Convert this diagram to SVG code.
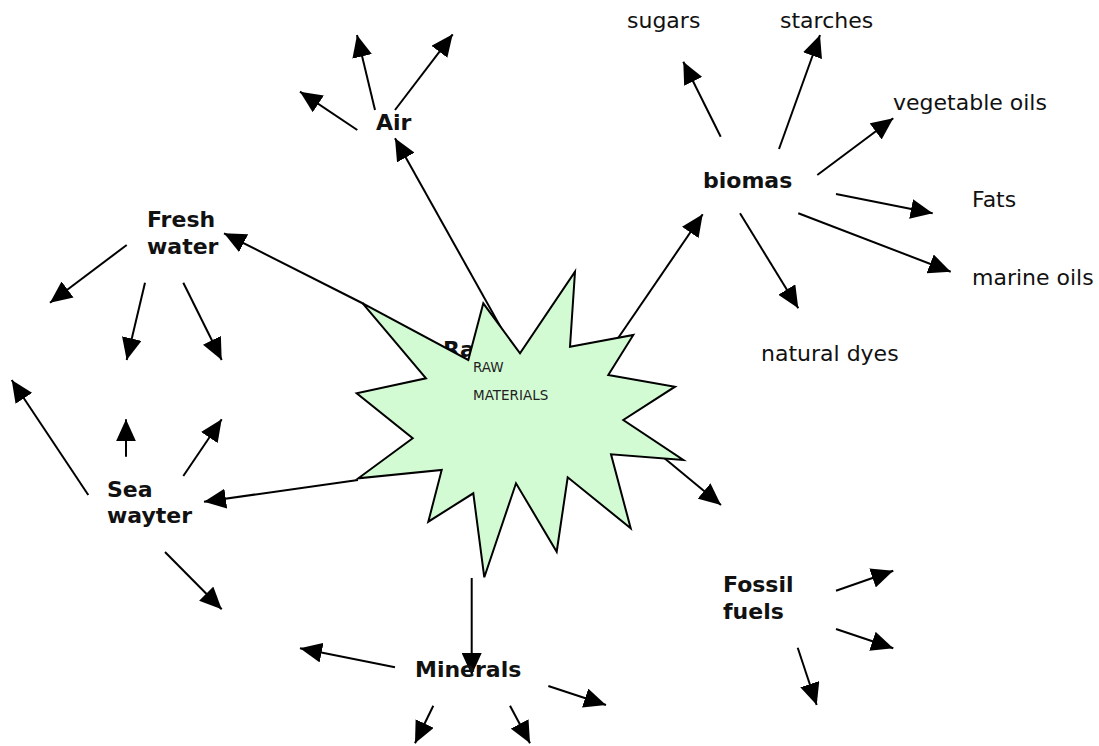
<svg xmlns="http://www.w3.org/2000/svg" width="1099" height="746" viewBox="0 0 1099 746">
<style>
.c line{stroke:#000;stroke-width:2;fill:none;marker-end:url(#ah)}
.b{font-family:"DejaVu Sans",Verdana,sans-serif;font-weight:bold;font-size:22px;fill:#111}
.r{font-family:"DejaVu Sans",Verdana,sans-serif;font-size:22px;fill:#111}
.s{font-family:"DejaVu Sans",Verdana,sans-serif;font-size:13.5px;fill:#222}
</style>
<defs>
<marker id="ah" markerUnits="userSpaceOnUse" markerWidth="22" markerHeight="20" refX="22" refY="10" orient="auto">
<path d="M0,0 L22,10 L0,20 z" fill="#000"/>
</marker>
</defs>
<rect width="1099" height="746" fill="#fff"/>
<g id="hidden-label"><text class="b" x="443" y="357">Ra</text></g>
<g class="c" id="connectors">
<line x1="513.5" y1="350" x2="395" y2="138.3"/>
<line x1="375" y1="110" x2="357" y2="35"/>
<line x1="395" y1="110" x2="452.7" y2="34.3"/>
<line x1="357.3" y1="130" x2="300" y2="91.7"/>
<line x1="612" y1="347" x2="702.7" y2="214.3"/>
<line x1="720.7" y1="136.7" x2="683.3" y2="61.7"/>
<line x1="779" y1="149" x2="820" y2="35"/>
<line x1="817.3" y1="175" x2="893.3" y2="118.3"/>
<line x1="836" y1="194" x2="932.7" y2="213.3"/>
<line x1="798.3" y1="213.3" x2="950.7" y2="271.7"/>
<line x1="740" y1="213.3" x2="798.3" y2="308.3"/>
<line x1="364" y1="304" x2="224" y2="233.3"/>
<line x1="126.7" y1="245" x2="50" y2="302.7"/>
<line x1="145" y1="282.7" x2="126.7" y2="360"/>
<line x1="183.3" y1="282.7" x2="221.7" y2="360"/>
<line x1="358" y1="480" x2="204" y2="501.7"/>
<line x1="88.3" y1="495" x2="11.7" y2="380"/>
<line x1="126" y1="456.7" x2="126" y2="419.3"/>
<line x1="183.3" y1="476" x2="221.7" y2="419.3"/>
<line x1="165" y1="552" x2="221.7" y2="609.3"/>
<line x1="471.7" y1="578" x2="471.7" y2="675"/>
<line x1="395" y1="667.3" x2="300" y2="648.3"/>
<line x1="433.3" y1="705.7" x2="415" y2="743.3"/>
<line x1="510" y1="705.7" x2="530" y2="743.3"/>
<line x1="548.3" y1="686" x2="606" y2="705"/>
<line x1="640" y1="438" x2="721" y2="505"/>
<line x1="836" y1="590.7" x2="893.3" y2="570.7"/>
<line x1="836" y1="629" x2="893.3" y2="648.3"/>
<line x1="797.7" y1="647.7" x2="816.7" y2="705"/>
</g>
<g id="raw-materials">
<polygon points="362.7,303.3 468.3,360 483.3,303.3 520,353.3 575,271.7 570,346.7 633.3,335 608.3,375 675,386.7 623.3,420 683.3,460 611,454.3 630.7,528.3 567.7,477.3 556.7,551.7 516,483.3 484.3,577.3 473.3,493.3 428.3,521.7 441.7,470 358.3,478.3 412.7,438.3 356.7,393.3 426,378.3" fill="#d3fbd3" stroke="#000" stroke-width="2" stroke-linejoin="miter"/>
<text class="s" x="473" y="372">RAW</text>
<text class="s" x="473" y="400">MATERIALS</text>
</g>
<g id="air"><text class="b" x="376" y="130">Air</text></g>
<g id="biomas"><text class="b" x="703" y="188">biomas</text></g>
<g id="sugars"><text class="r" x="627" y="28">sugars</text></g>
<g id="starches"><text class="r" x="780" y="28">starches</text></g>
<g id="vegetable-oils"><text class="r" x="893" y="110">vegetable oils</text></g>
<g id="fats"><text class="r" x="972" y="207">Fats</text></g>
<g id="marine-oils"><text class="r" x="972" y="285">marine oils</text></g>
<g id="natural-dyes"><text class="r" x="761" y="361">natural dyes</text></g>
<g id="fresh-water"><text class="b" x="147" y="227">Fresh</text><text class="b" x="147" y="254">water</text></g>
<g id="sea-wayter"><text class="b" x="107" y="497">Sea</text><text class="b" x="107" y="523">wayter</text></g>
<g id="minerals"><text class="b" x="415" y="677">Minerals</text></g>
<g id="fossil-fuels"><text class="b" x="723" y="592">Fossil</text><text class="b" x="723" y="619">fuels</text></g>
</svg>
